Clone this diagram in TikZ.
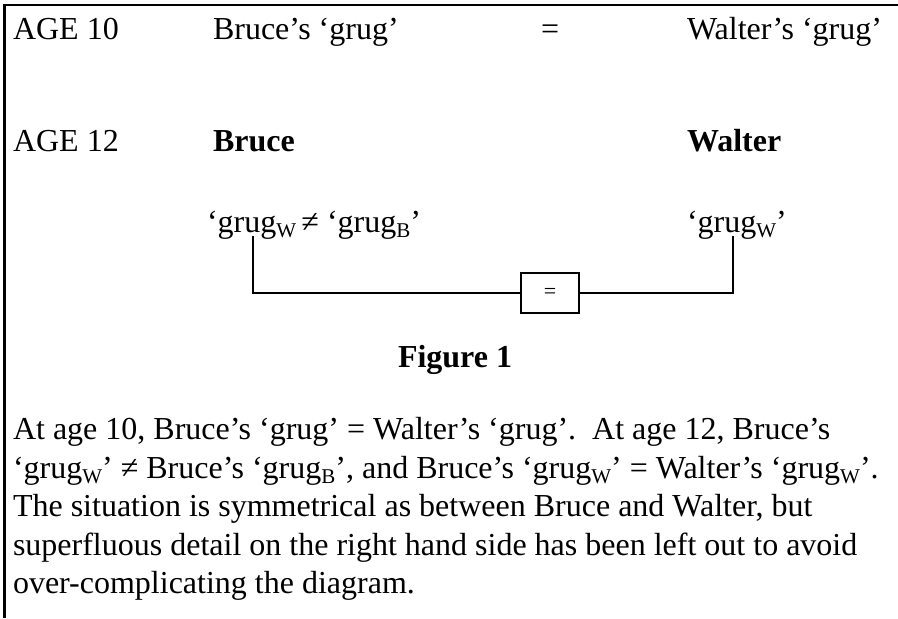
\documentclass[tikz,border=0pt]{standalone}
\usepackage{fontspec}
\setmainfont{Liberation Serif}
\usepackage{tikz}
\usetikzlibrary{positioning}
\newcommand{\subW}[1]{\raisebox{-0.18em}{\fontsize{10.5}{10.5}\selectfont #1}}
\tikzset{
x=0.5pt, y=-0.5pt, % one unit is one pixel of the page, y runs down
every node/.style={inner sep=0pt, outer sep=0pt, anchor=base west, font=\fontsize{16}{19}\selectfont}, % plain text nodes
caption/.style={font=\fontsize{16}{19}\selectfont\bfseries}, % bold headings
frame/.style={line width=1.4pt}, % the frame lines on top and left
wire/.style={line width=1.1pt}, % the connecting lines
eqbox/.style={draw, line width=1.1pt, anchor=center, minimum width=29pt, minimum height=20pt}, % the small box with the sign
}
\begin{document}
\begin{tikzpicture}
                \useasboundingbox (0,0) rectangle (898,618);
                \draw[frame] (4.5,618) |- (898,5);

                \node (age10) at (13,39) {AGE 10};
                \node (brucegrug) at (213,39) {Bruce’s ‘grug’};
                \node (eqsign) at (541,39) {=};
                \node (waltergrug) at (687,39) {Walter’s ‘grug’};

                \node (age12) at (13,151) {AGE 12};
                \node[caption] (bruce) at (213,151) {Bruce};
                \node[caption] (walter) at (687,151) {Walter};

                \node (bgrug) at (207,232) {‘grug\subW{W}\,≠ ‘grug\subW{B}’};
                \node (wgrug) at (687,232) {‘grug\subW{W}’};
                \node[eqbox] (box) at (550,293) {\fontsize{11}{11}\selectfont =};
                \coordinate (bl) at (253,236);
                \coordinate (wr) at (733,236);

                \draw[wire]
                    (box.west) -| (bl)
                    (box.east) -| (wr)
                    ;

                \node[caption] (fig) at (398,367) {Figure 1};

                \node (cap1) at (13,439) {At age 10, Bruce’s ‘grug’ = Walter’s ‘grug’.\ \ At age 12, Bruce’s};
                \node (cap2) at (13,478) {‘grug\subW{W}’ ≠ Bruce’s ‘grug\subW{B}’, and Bruce’s ‘grug\subW{W}’ = Walter’s ‘grug\subW{W}’.};
                \node (cap3) at (13,516) {The situation is symmetrical as between Bruce and Walter, but};
                \node (cap4) at (13,555) {superfluous detail on the right hand side has been left out to avoid};
                \node (cap5) at (13,593) {over-complicating the diagram.};
                \end{tikzpicture}
\end{document}
